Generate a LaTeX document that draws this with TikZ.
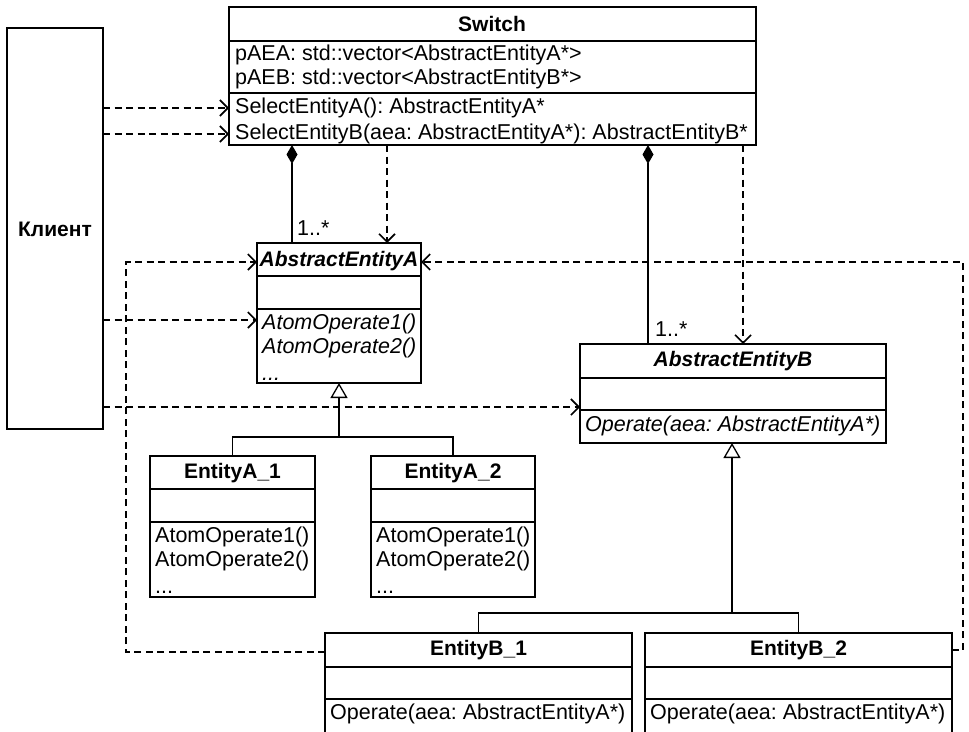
\documentclass[tikz,border=0pt]{standalone}
\usepackage{fontspec}
\setmainfont{Liberation Sans}
\usetikzlibrary{arrows.meta}
\begin{document}
\frenchspacing
\begin{tikzpicture}[x=1pt,y=-1pt,
  box/.style={draw,line width=1.4pt,inner sep=0pt,outer sep=0pt,anchor=north west},
  sep/.style={line width=1.4pt},
  txt/.style={inner sep=0pt,anchor=west,font=\fontsize{21.5}{24}\selectfont},
  itxt/.style={txt,font=\fontsize{21.5}{24}\selectfont\itshape},
  dots/.style={inner sep=0pt,anchor=base west,font=\fontsize{21.5}{24}\selectfont},
  ttl/.style={inner sep=0pt,font=\fontsize{21}{24}\selectfont\bfseries},
  ittl/.style={inner sep=0pt,font=\fontsize{21}{24}\selectfont\bfseries\itshape},
  dep/.style={line width=1.3pt,dash pattern=on 7pt off 4.5pt,-{Straight Barb[length=8pt,width=16pt,line width=1.6pt]}},
  comp/.style={line width=1.3pt,{Diamond[length=19pt,width=11pt]}-},
  gen/.style={line width=1.3pt,-{Triangle[open,length=15pt,width=17pt,line width=1.3pt]}},
  tree/.style={line width=1.3pt}
]
\useasboundingbox (0,0) rectangle (969,731);
\fill[white] (0,0) rectangle (969,731);

% Client
\node[box,minimum width=96pt,minimum height=401pt] (cl) at (7,28) {};
\node[ttl] (clt) at (55,229) {Клиент};

% Switch
\node[box,minimum width=527pt,minimum height=138pt] (sw) at (229,7) {};
\draw[sep] (sw.west |- 0,41) -- (sw.east |- 0,41);
\draw[sep] (sw.west |- 0,93) -- (sw.east |- 0,93);
\node[ttl] (swt) at (492,24) {Switch};
\node[txt] (swa1) at (235,55) {pAEA: std::vector<AbstractEntityA*>};
\node[txt] (swa2) at (235,79) {pAEB: std::vector<AbstractEntityB*>};
\node[txt] (sel1) at (235,108) {SelectEntityA(): AbstractEntityA*};
\node[txt] (sel2) at (235,134) {SelectEntityB(aea: AbstractEntityA*): AbstractEntityB*};

% AbstractEntityA
\node[box,minimum width=164pt,minimum height=140pt] (aea) at (257,243) {};
\draw[sep] (aea.west |- 0,276) -- (aea.east |- 0,276);
\draw[sep] (aea.west |- 0,309) -- (aea.east |- 0,309);
\node[ittl] (aeat) at (339,261) {AbstractEntityA};
\node[itxt] (aeo1) at (262,324) {AtomOperate1()};
\node[itxt] (aeo2) at (262,348) {AtomOperate2()};
\node[dots,font=\fontsize{21.5}{24}\selectfont\itshape] (aeo3) at (262,380) {...};

% AbstractEntityB
\node[box,minimum width=306pt,minimum height=99pt] (aeb) at (580,344) {};
\draw[sep] (aeb.west |- 0,378) -- (aeb.east |- 0,378);
\draw[sep] (aeb.west |- 0,410) -- (aeb.east |- 0,410);
\node[ittl] (aebt) at (733,361) {AbstractEntityB};
\node[itxt] (aebo) at (585,426) {Operate(aea: AbstractEntityA*)};

% EntityA_1
\node[box,minimum width=165pt,minimum height=141pt] (ea1) at (150,456) {};
\draw[sep] (ea1.west |- 0,489) -- (ea1.east |- 0,489);
\draw[sep] (ea1.west |- 0,522) -- (ea1.east |- 0,522);
\node[ttl] (ea1t) at (232.5,473) {EntityA\_1};
\node[txt] (ea1o1) at (155,537) {AtomOperate1()};
\node[txt] (ea1o2) at (155,561) {AtomOperate2()};
\node[dots] (ea1o3) at (155,593) {...};

% EntityA_2
\node[box,minimum width=164pt,minimum height=141pt] (ea2) at (371,456) {};
\draw[sep] (ea2.west |- 0,489) -- (ea2.east |- 0,489);
\draw[sep] (ea2.west |- 0,522) -- (ea2.east |- 0,522);
\node[ttl] (ea2t) at (453,473) {EntityA\_2};
\node[txt] (ea2o1) at (376,537) {AtomOperate1()};
\node[txt] (ea2o2) at (376,561) {AtomOperate2()};
\node[dots] (ea2o3) at (376,593) {...};

% EntityB_1
\node[box,minimum width=307pt,minimum height=110pt] (eb1) at (325,633) {};
\draw[sep] (eb1.west |- 0,667) -- (eb1.east |- 0,667);
\draw[sep] (eb1.west |- 0,699) -- (eb1.east |- 0,699);
\node[ttl] (eb1t) at (478.5,650) {EntityB\_1};
\node[txt] (eb1o) at (330,714) {Operate(aea: AbstractEntityA*)};

% EntityB_2
\node[box,minimum width=307pt,minimum height=110pt] (eb2) at (645,633) {};
\draw[sep] (eb2.west |- 0,667) -- (eb2.east |- 0,667);
\draw[sep] (eb2.west |- 0,699) -- (eb2.east |- 0,699);
\node[ttl] (eb2t) at (798.5,650) {EntityB\_2};
\node[txt] (eb2o) at (650,714) {Operate(aea: AbstractEntityA*)};

% helper coordinates
\coordinate (kA) at (292,0);
\coordinate (kB) at (648,0);
\coordinate (dA) at (387,0);
\coordinate (dB) at (743,0);
\coordinate (yC) at (0,320);
\coordinate (yD) at (0,407);
\coordinate (lx) at (126,262);
\coordinate (rx) at (963,262);
\coordinate (yB1) at (0,652);
\coordinate (yB2) at (0,650);

% compositions
\draw[comp] (sw.south -| kA) -- (aea.north -| kA);
\node[txt,anchor=south west] (m1) at (297,236) {1..*};
\draw[comp] (sw.south -| kB) -- (aeb.north -| kB);
\node[txt,anchor=south west] (m2) at (655,337) {1..*};

% dependencies from Switch
\draw[dep] (sw.south -| dA) -- (aea.north -| dA);
\draw[dep] (sw.south -| dB) -- (aeb.north -| dB);

% dependencies from Client
\draw[dep] (cl.east |- sel1) -- (sw.west |- sel1);
\draw[dep] (cl.east |- sel2) -- (sw.west |- sel2);
\draw[dep] (cl.east |- yC) -- (aea.west |- yC);
\draw[dep] (cl.east |- yD) -- (aeb.west |- yD);

% dependencies from EntityB to AbstractEntityA
\draw[dep] (eb1.west |- yB1) -| (lx) -- (aea.west |- lx);
\draw[dep] (eb2.east |- yB2) -| (rx) -- (aea.east |- rx);

% generalization A
\coordinate (gA) at (339,437);
\draw[tree] (ea1.north) |- (gA) -| (ea2.north);
\draw[gen] (gA) -- (aea.south -| gA);

% generalization B
\coordinate (gB) at (732,613);
\draw[tree] (eb1.north) |- (gB) -| (eb2.north);
\draw[gen] (gB) -- (aeb.south -| gB);
\end{tikzpicture}
\end{document}
